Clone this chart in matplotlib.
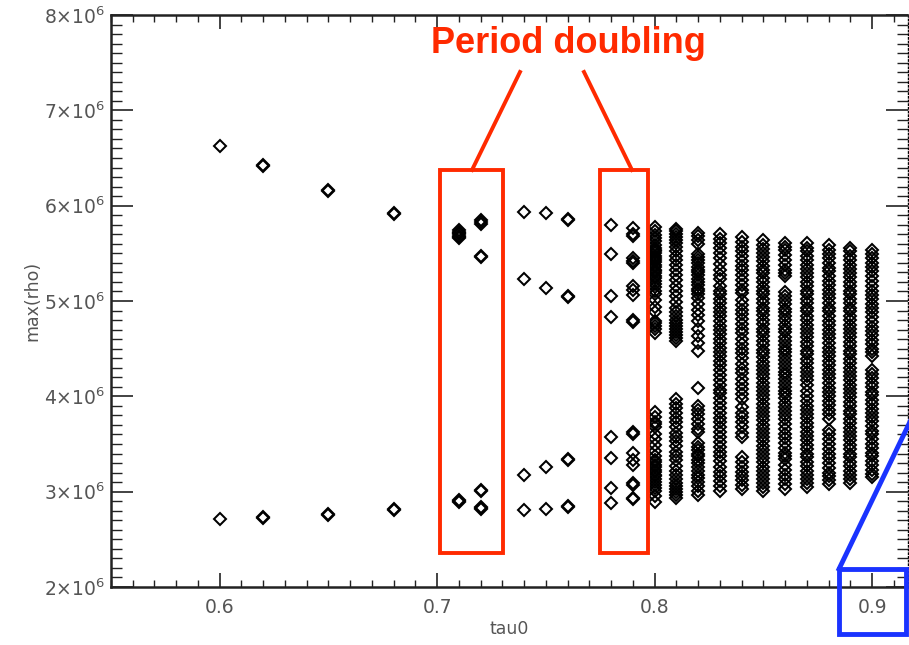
import matplotlib
matplotlib.use("Agg")
import matplotlib.pyplot as plt
from matplotlib.ticker import MultipleLocator, FixedLocator, FuncFormatter
from matplotlib.patches import Rectangle
from matplotlib.lines import Line2D
import numpy as np

plt.rcParams["font.family"] = ["DejaVu Sans"]
plt.rcParams["mathtext.default"] = "regular"

# tau0 values of each run and the maxima of rho found in it (units of 1e6)
tau0 = [0.60, 0.62, 0.65, 0.68, 0.71, 0.72, 0.74, 0.75, 0.76, 0.78, 0.79,
        0.80, 0.81, 0.82, 0.83, 0.84, 0.85, 0.86, 0.87, 0.88, 0.89, 0.90]

m060 = [6.63, 2.71]
m062 = [6.43, 6.42, 2.72, 2.73]
m065 = [6.16, 6.15, 2.77, 2.76]
m068 = [5.92, 5.91, 2.82, 2.81]
m071 = [5.74, 5.72, 5.71, 5.70, 5.68, 5.67, 5.66, 2.91, 2.90, 2.89]
m072 = [5.85, 5.83, 5.81, 5.47, 5.46, 3.02, 3.01, 2.84, 2.83, 2.82]
m074 = [5.93, 5.23, 3.17, 2.81]
m075 = [5.92, 5.14, 3.26, 2.82]
m076 = [5.86, 5.85, 5.05, 5.04, 3.34, 3.33, 2.85, 2.84]
m078 = [5.80, 5.49, 5.05, 4.83, 3.57, 3.35, 3.04, 2.88]
m079 = [5.77, 5.70, 5.68, 5.45, 5.40, 5.42, 5.16, 5.12, 5.06, 4.80, 4.78,
        3.63, 3.61, 3.41, 3.33, 3.28, 3.09, 3.07, 2.93, 2.92]
m080 = [5.78, 5.73, 5.69, 5.66, 5.63, 5.59, 5.56, 5.54, 5.52, 5.50, 5.47,
        5.45, 5.43, 5.41, 5.38, 5.36, 5.33, 5.31, 5.29, 5.26, 5.24, 5.21,
        5.18, 5.15, 5.11, 5.07, 5.01, 4.94, 4.88, 4.79, 4.77, 4.74, 4.71,
        4.66, 3.84, 3.78, 3.73, 3.71, 3.68, 3.61, 3.55, 3.49, 3.43, 3.37,
        3.33, 3.31, 3.28, 3.26, 3.23, 3.21, 3.18, 3.16, 3.13, 3.10, 3.07,
        3.04, 3.01, 2.95, 2.89]
m081 = [5.76, 5.73, 5.70, 5.67, 5.64, 5.61, 5.57, 5.52, 5.47, 5.43, 5.38,
        5.33, 5.27, 5.22, 5.16, 5.11, 5.05, 4.99, 4.93, 4.88, 4.84, 4.80,
        4.77, 4.74, 4.71, 4.68, 4.64, 4.61, 4.58, 3.97, 3.92, 3.88, 3.83,
        3.77, 3.73, 3.68, 3.62, 3.57, 3.53, 3.48, 3.42, 3.37, 3.33, 3.27,
        3.22, 3.17, 3.13, 3.09, 3.06, 3.03, 3.00, 2.97, 2.93]
m082 = [5.71, 5.68, 5.64, 5.60, 5.49, 5.46, 5.43, 5.40, 5.36, 5.33, 5.30,
        5.27, 5.23, 5.20, 5.17, 5.13, 5.10, 5.07, 5.03, 4.97, 4.91, 4.85,
        4.79, 4.71, 4.63, 4.56, 4.48, 4.09, 3.90, 3.86, 3.81, 3.76, 3.71,
        3.66, 3.63, 3.51, 3.47, 3.44, 3.40, 3.37, 3.33, 3.30, 3.26, 3.22,
        3.18, 3.14, 3.10, 3.06, 3.01, 2.96]
m083 = [5.70, 5.65, 5.61, 5.56, 5.50, 5.45, 5.39, 5.33, 5.27, 5.23, 5.16,
        5.11, 5.07, 5.02, 4.98, 4.93, 4.88, 4.84, 4.79, 4.74, 4.70, 4.65,
        4.60, 4.56, 4.51, 4.47, 4.42, 4.37, 4.33, 4.28, 4.22, 4.17, 4.12,
        4.07, 4.03, 3.98, 3.93, 3.88, 3.82, 3.77, 3.73, 3.68, 3.63, 3.57,
        3.52, 3.47, 3.42, 3.37, 3.32, 3.26, 3.21, 3.16, 3.11, 3.06, 3.01]
m084 = [5.67, 5.62, 5.57, 5.52, 5.47, 5.42, 5.37, 5.32, 5.27, 5.22, 5.17,
        5.12, 5.08, 5.01, 4.96, 4.91, 4.86, 4.81, 4.76, 4.71, 4.66, 4.60,
        4.55, 4.50, 4.45, 4.40, 4.34, 4.29, 4.24, 4.18, 4.13, 4.08, 4.02,
        3.97, 3.89, 3.83, 3.78, 3.73, 3.68, 3.62, 3.57, 3.36, 3.31, 3.26,
        3.21, 3.16, 3.12, 3.07, 3.03]
m085 = [5.64, 5.59, 5.55, 5.50, 5.46, 5.42, 5.37, 5.33, 5.29, 5.24, 5.20,
        5.15, 5.11, 5.07, 5.02, 4.98, 4.93, 4.89, 4.85, 4.80, 4.76, 4.71,
        4.67, 4.63, 4.58, 4.54, 4.49, 4.45, 4.41, 4.36, 4.32, 4.28, 4.23,
        4.19, 4.14, 4.10, 4.06, 4.01, 3.97, 3.92, 3.88, 3.84, 3.79, 3.75,
        3.70, 3.66, 3.62, 3.57, 3.53, 3.48, 3.44, 3.40, 3.35, 3.31, 3.26,
        3.22, 3.18, 3.13, 3.09, 3.05, 3.01]
m086 = [5.61, 5.57, 5.53, 5.48, 5.43, 5.38, 5.33, 5.29, 5.26, 5.09, 5.05,
        5.01, 4.97, 4.92, 4.88, 4.84, 4.80, 4.75, 4.71, 4.67, 4.62, 4.58,
        4.54, 4.50, 4.46, 4.42, 4.38, 4.34, 4.30, 4.26, 4.22, 4.18, 4.14,
        4.10, 4.06, 4.02, 3.98, 3.93, 3.89, 3.85, 3.80, 3.76, 3.71, 3.66,
        3.61, 3.56, 3.51, 3.46, 3.41, 3.37, 3.34, 3.28, 3.23, 3.18, 3.13,
        3.08, 3.03]
m087 = [5.61, 5.56, 5.52, 5.47, 5.43, 5.38, 5.34, 5.29, 5.25, 5.20, 5.16,
        5.11, 5.07, 5.02, 4.98, 4.93, 4.89, 4.84, 4.80, 4.75, 4.71, 4.66,
        4.62, 4.57, 4.53, 4.48, 4.44, 4.39, 4.35, 4.30, 4.26, 4.21, 4.17,
        4.12, 4.06, 4.00, 3.95, 3.90, 3.86, 3.81, 3.77, 3.72, 3.68, 3.63,
        3.58, 3.54, 3.49, 3.45, 3.40, 3.36, 3.31, 3.27, 3.22, 3.18, 3.13,
        3.09, 3.05]
m088 = [5.59, 5.54, 5.49, 5.45, 5.40, 5.35, 5.31, 5.26, 5.21, 5.17, 5.12,
        5.07, 5.03, 4.98, 4.93, 4.89, 4.84, 4.79, 4.75, 4.70, 4.65, 4.61,
        4.56, 4.51, 4.47, 4.42, 4.37, 4.33, 4.28, 4.23, 4.19, 4.14, 4.09,
        4.05, 4.00, 3.95, 3.91, 3.86, 3.81, 3.76, 3.65, 3.60, 3.55, 3.50,
        3.45, 3.40, 3.35, 3.30, 3.25, 3.20, 3.16, 3.12, 3.08]
m089 = [5.56, 5.52, 5.47, 5.43, 5.38, 5.34, 5.29, 5.25, 5.20, 5.16, 5.11,
        5.07, 5.02, 4.98, 4.93, 4.89, 4.84, 4.80, 4.75, 4.71, 4.66, 4.62,
        4.57, 4.53, 4.48, 4.44, 4.39, 4.35, 4.30, 4.26, 4.21, 4.17, 4.12,
        4.08, 4.03, 3.99, 3.94, 3.90, 3.85, 3.81, 3.76, 3.72, 3.67, 3.63,
        3.58, 3.54, 3.49, 3.45, 3.40, 3.36, 3.31, 3.27, 3.22, 3.18, 3.13,
        3.09]
m090 = [5.54, 5.49, 5.45, 5.40, 5.36, 5.31, 5.26, 5.21, 5.16, 5.11, 5.06,
        5.02, 4.97, 4.93, 4.88, 4.83, 4.78, 4.73, 4.69, 4.64, 4.59, 4.55,
        4.50, 4.46, 4.42, 4.28, 4.23, 4.19, 4.14, 4.10, 4.05, 4.01, 3.96,
        3.92, 3.87, 3.83, 3.78, 3.74, 3.69, 3.64, 3.60, 3.55, 3.50, 3.46,
        3.41, 3.37, 3.32, 3.28, 3.23, 3.19, 3.15]

maxima = [m060, m062, m065, m068, m071, m072, m074, m075, m076, m078, m079,
          m080, m081, m082, m083, m084, m085, m086, m087, m088, m089, m090]

x_ticks = [0.6, 0.7, 0.8, 0.9]
y_ticks = [2, 3, 4, 5, 6, 7, 8]

W, H = 909, 645
fig = plt.figure(figsize=(W / 100, H / 100), dpi=100)
ax = fig.add_axes([111 / W, 1 - 587 / H, (908 - 111) / W, (587 - 15) / H])

for t, vals in zip(tau0, maxima):
    ax.plot(np.full(len(vals), t), np.array(vals) * 1e6, linestyle="none",
            marker="D", markersize=6.6, markerfacecolor="none",
            markeredgecolor="black", markeredgewidth=1.45)

ax.set_xlim(0.55, 0.9165)
ax.set_ylim(2e6, 8e6)

ax.xaxis.set_major_locator(FixedLocator(x_ticks))
ax.xaxis.set_minor_locator(MultipleLocator(0.01))
ax.yaxis.set_major_locator(FixedLocator([v * 1e6 for v in y_ticks]))
ax.yaxis.set_minor_locator(MultipleLocator(1e5))
ax.xaxis.set_major_formatter(FuncFormatter(lambda v, p: f"{v:.1f}"))
ax.yaxis.set_major_formatter(
    FuncFormatter(lambda v, p: f"{int(round(v / 1e6))}×10$^6$"))

ax.tick_params(axis="both", which="both", direction="in", colors="#222222",
               labelcolor="#555555", labelsize=13.5, top=True, right=True)
ax.tick_params(axis="x", which="major", length=10, width=1.2, pad=8)
ax.tick_params(axis="x", which="minor", length=5, width=1.0)
ax.tick_params(axis="y", which="major", length=16, width=1.2, pad=4)
ax.tick_params(axis="y", which="minor", length=8, width=1.0)
for side in ["left", "top", "bottom"]:
    ax.spines[side].set_linewidth(1.8)
    ax.spines[side].set_color("#222222")
ax.spines["right"].set_linewidth(1.0)
ax.spines["right"].set_linestyle(":")

ax.set_xlabel("tau0", fontsize=12.5, color="#555555", labelpad=2)
ax.set_ylabel("max(rho)", fontsize=12.5, color="#555555", labelpad=2)


def px(x, y):
    return x / W, 1 - y / H


red = "#ff2a00"
blue = "#1a33ff"

for (x0, x1) in [(440, 503), (600, 648)]:
    fx0, fy0 = px(x0, 553)
    fx1, fy1 = px(x1, 170)
    fig.patches.append(Rectangle((fx0, fy0), fx1 - fx0, fy1 - fy0,
                                 transform=fig.transFigure, fill=False,
                                 edgecolor=red, linewidth=2.8))

for (xa, ya, xb, yb) in [(472, 170, 520, 72), (632, 170, 584, 72)]:
    a = px(xa, ya)
    b = px(xb, yb)
    fig.lines.append(Line2D([a[0], b[0]], [a[1], b[1]],
                            transform=fig.transFigure, color=red,
                            linewidth=2.8))

fig.text(568 / W, 1 - 53 / H, "Period doubling", color=red,
         fontsize=26, fontweight="bold", family=["Liberation Sans"],
         ha="center", va="baseline")

bx0, by0 = px(839, 634)
bx1, by1 = px(906, 569)
fig.patches.append(Rectangle((bx0, by0), bx1 - bx0, by1 - by0,
                             transform=fig.transFigure, fill=False,
                             edgecolor=blue, linewidth=3.5))
a = px(839, 569)
b = px(920, 401)
fig.lines.append(Line2D([a[0], b[0]], [a[1], b[1]], transform=fig.transFigure,
                        color=blue, linewidth=3.5))

fig.savefig("out.png", dpi=100)
